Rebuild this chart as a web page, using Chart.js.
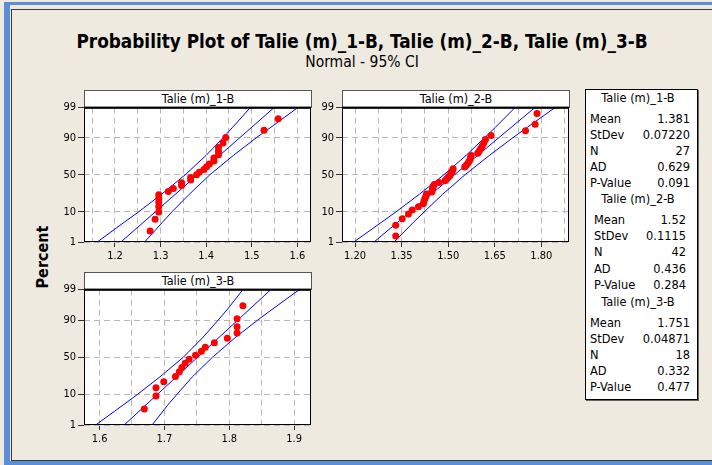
<!DOCTYPE html>
<html>
<head>
<meta charset="utf-8">
<script src="https://cdn.jsdelivr.net/npm/chart.js@4.4.1/dist/chart.umd.min.js"></script>
<style>
  body { margin: 0; background: #e6e6e6; }
  #page { position: absolute; left: 0; top: 0; width: 712px; height: 465px; background: #eeeae0; overflow: hidden;
          font-family: 'DejaVu Sans Condensed', 'DejaVu Sans', sans-serif; color: #000; }
  .abs { position: absolute; }
  .blue { position: absolute; background: #5b8ed6; }
  .dark { position: absolute; background: #3a3a3a; }
  .head { position: absolute; box-sizing: border-box; background: #fff; border: 1px solid #555; border-bottom: none;
          text-align: center; font-size: 12.5px; line-height: 16px; }
  #title { left: 0; width: 724px; top: 32px; text-align: center; font-weight: bold; font-size: 18.8px; line-height: 20px; white-space: nowrap; }
  #sub { left: 0; width: 724px; top: 54px; text-align: center; font-size: 15.5px; line-height: 16px; }
  #percent { left: 42px; top: 257px; font-weight: bold; font-size: 16px; transform: translate(-50%, -50%) rotate(-90deg); white-space: nowrap; }
  #stats { left: 585px; top: 89px; width: 113px; height: 311px; box-sizing: border-box; background: #fff;
           border: 1px solid #000; box-shadow: 1px 1px 0 #666; font-size: 12.7px; }
  .row { position: absolute; height: 14px; line-height: 14px; white-space: nowrap; }
  canvas { position: absolute; }
</style>
</head>
<body>
<div id="page">
  <div class="blue" style="left:4px;top:2px;width:708px;height:3px"></div>
  <div class="blue" style="left:4px;top:2px;width:6px;height:463px"></div>
  <div class="blue" style="left:4px;top:461px;width:708px;height:4px"></div>
  <div class="dark" style="left:11px;top:9px;width:701px;height:1px"></div>
  <div class="dark" style="left:11px;top:9px;width:1px;height:452px"></div>
  <div class="dark" style="left:11px;top:460px;width:701px;height:1px"></div>

  <div id="title" class="abs">Probability Plot of Talie (m)_1-B, Talie (m)_2-B, Talie (m)_3-B</div>
  <div id="sub" class="abs">Normal - 95% CI</div>
  <div id="percent" class="abs">Percent</div>

  <div class="head" style="left:84px;top:90px;width:228px;height:18px">Talie (m)_1-B</div>
  <div class="head" style="left:342px;top:90px;width:228px;height:18px">Talie (m)_2-B</div>
  <div class="head" style="left:84px;top:272px;width:228px;height:18px">Talie (m)_3-B</div>

  <canvas id="c1" width="295" height="173" style="left:24px;top:99px"></canvas>
  <canvas id="c2" width="295" height="173" style="left:282px;top:99px"></canvas>
  <canvas id="c3" width="295" height="174" style="left:24px;top:281px"></canvas>

  <div id="stats" class="abs"></div>
</div>
<script>
// percent axis (normal probability scale)
const pctTicks = [1, 10, 50, 90, 99];
const pctTickLabels = ['1', '10', '50', '90', '99'];
const bandPct = [1, 5, 10, 25, 50, 75, 90, 95, 99];
const fitPct = [1, 99];

// Talie (m)_1-B
const x1 = [1.277, 1.288, 1.296, 1.296, 1.296, 1.296, 1.296, 1.317, 1.328, 1.346, 1.346, 1.366, 1.366, 1.379,
            1.385, 1.395, 1.401, 1.407, 1.417, 1.417, 1.427, 1.427, 1.427, 1.437, 1.443, 1.527, 1.558];
const pct1 = [2.6, 6.2, 9.9, 13.5, 17.2, 20.8, 24.5, 28.1, 31.8, 35.4, 39.1, 42.7, 46.4, 50.0,
              53.6, 57.3, 61.0, 64.6, 68.3, 71.9, 75.5, 79.2, 82.8, 86.5, 90.1, 93.8, 97.4];
const fit1 = [1.213, 1.549];
const lo1 = [1.161, 1.220, 1.252, 1.302, 1.354, 1.400, 1.437, 1.458, 1.497];
const hi1 = [1.265, 1.304, 1.325, 1.363, 1.408, 1.460, 1.510, 1.542, 1.601];
const xGrid1 = [1.15, 1.2, 1.25, 1.3, 1.35, 1.4, 1.45, 1.5, 1.55, 1.6];
const xLabels1 = ['1.2', '1.3', '1.4', '1.5', '1.6'];

// Talie (m)_2-B
const x2 = [1.331, 1.331, 1.352, 1.372, 1.384, 1.404, 1.420, 1.422, 1.425, 1.428, 1.430, 1.447, 1.449, 1.450,
            1.452, 1.455, 1.470, 1.490, 1.495, 1.500, 1.505, 1.508, 1.511, 1.514, 1.516, 1.553, 1.558, 1.563,
            1.567, 1.570, 1.572, 1.574, 1.595, 1.600, 1.605, 1.610, 1.615, 1.620, 1.638, 1.749, 1.780, 1.786];
const pct2 = [1.7, 4.0, 6.4, 8.7, 11.1, 13.4, 15.8, 18.2, 20.5, 22.9, 25.2, 27.6, 30.0, 32.3,
              34.7, 37.0, 39.4, 41.7, 44.1, 46.5, 48.8, 51.2, 53.5, 55.9, 58.3, 60.6, 63.0, 65.3,
              67.7, 70.0, 72.4, 74.8, 77.1, 79.5, 81.8, 84.2, 86.6, 88.9, 91.3, 93.6, 96.0, 98.3];
const fit2 = [1.261, 1.779];
const lo2 = [1.196, 1.285, 1.332, 1.407, 1.486, 1.558, 1.617, 1.652, 1.715];
const hi2 = [1.326, 1.388, 1.423, 1.482, 1.554, 1.633, 1.708, 1.755, 1.844];
const xGrid2 = [1.2, 1.275, 1.35, 1.425, 1.5, 1.575, 1.65, 1.725, 1.8, 1.875];
const xLabels2 = ['1.20', '1.35', '1.50', '1.65', '1.80'];

// Talie (m)_3-B
const x3 = [1.669, 1.687, 1.687, 1.699, 1.717, 1.723, 1.727, 1.732, 1.738, 1.748, 1.757, 1.763, 1.777, 1.797,
            1.812, 1.812, 1.812, 1.821];
const pct3 = [3.8, 9.2, 14.7, 20.1, 25.5, 31.0, 36.4, 41.8, 47.3, 52.7, 58.2, 63.6, 69.0, 74.5,
              79.9, 85.3, 90.8, 96.2];
const fit3 = [1.638, 1.864];
const lo3 = [1.594, 1.636, 1.658, 1.693, 1.729, 1.759, 1.783, 1.797, 1.821];
const hi3 = [1.681, 1.705, 1.719, 1.743, 1.774, 1.809, 1.844, 1.866, 1.908];
const xGrid3 = [1.6, 1.65, 1.7, 1.75, 1.8, 1.85, 1.9];
const xLabels3 = ['1.6', '1.7', '1.8', '1.9'];

// summary table
const statNames = ['Mean', 'StDev', 'N', 'AD', 'P-Value'];
const statTitles = ['Talie (m)_1-B', 'Talie (m)_2-B', 'Talie (m)_3-B'];
const statValues = [
  ['1.381', '0.07220', '27', '0.629', '0.091'],
  ['1.52', '0.1115', '42', '0.436', '0.284'],
  ['1.751', '0.04871', '18', '0.332', '0.477']
];

const FONT = "'DejaVu Sans Condensed', 'DejaVu Sans', sans-serif";

// inverse normal cdf (Acklam) - turns percent into the probability scale
function probit(p) {
  const a = [-39.6968302866538, 220.946098424521, -275.928510446969, 138.357751867269, -30.6647980661472, 2.50662827745924];
  const b = [-54.4760987982241, 161.585836858041, -155.698979859887, 66.8013118877197, -13.2806815528857];
  const c = [-0.00778489400243029, -0.322396458041136, -2.40075827716184, -2.54973253934373, 4.37466414146497, 2.93816398269878];
  const d = [0.00778469570904146, 0.32246712907004, 2.445134137143, 3.75440866190742];
  const pl = 0.02425;
  let q, r;
  if (p < pl) {
    q = Math.sqrt(-2 * Math.log(p));
    return (((((c[0]*q+c[1])*q+c[2])*q+c[3])*q+c[4])*q+c[5]) / ((((d[0]*q+d[1])*q+d[2])*q+d[3])*q+1);
  }
  if (p > 1 - pl) {
    q = Math.sqrt(-2 * Math.log(1 - p));
    return -(((((c[0]*q+c[1])*q+c[2])*q+c[3])*q+c[4])*q+c[5]) / ((((d[0]*q+d[1])*q+d[2])*q+d[3])*q+1);
  }
  q = p - 0.5; r = q * q;
  return (((((a[0]*r+a[1])*r+a[2])*r+a[3])*r+a[4])*r+a[5])*q / (((((b[0]*r+b[1])*r+b[2])*r+b[3])*r+b[4])*r+1);
}

function pts(xs, ps) {
  return xs.map((x, i) => ({ x: x, y: probit(ps[i] / 100) }));
}

// white plot area + black frame
const framePlugin = {
  id: 'frame',
  beforeDraw(chart) {
    const { ctx, chartArea: a } = chart;
    ctx.save();
    ctx.fillStyle = '#fff';
    ctx.fillRect(a.left, a.top, a.right - a.left, a.bottom - a.top);
    ctx.restore();
  },
  afterDraw(chart) {
    const { ctx, chartArea: a } = chart;
    ctx.save();
    ctx.strokeStyle = '#000';
    ctx.lineWidth = 1;
    ctx.strokeRect(a.left + 0.5, a.top + 0.5, a.right - a.left - 1, a.bottom - a.top - 1);
    ctx.fillStyle = '#000';
    ctx.fillRect(a.left, a.top - 1, a.right - a.left, 2);
    ctx.restore();
  }
};

function makePanel(id, xs, ps, fit, lo, hi, xGrid, xLabels, xMin, xMax) {
  const labelFor = v => xLabels.find(l => Math.abs(parseFloat(l) - v) < 1e-6) || '';
  const line = (xv, pv) => ({
    data: pts(xv, pv), showLine: true, borderColor: '#0000ff', borderWidth: 1,
    pointRadius: 0, fill: false, order: 1
  });
  return new Chart(document.getElementById(id), {
    type: 'scatter',
    data: {
      datasets: [
        { data: pts(xs, ps), backgroundColor: '#ff0000', borderColor: '#ff0000', pointRadius: 3.5, borderWidth: 0, order: 0 },
        line(fit, fitPct),
        line(lo, bandPct),
        line(hi, bandPct)
      ]
    },
    options: {
      responsive: false,
      animation: false,
      events: [],
      layout: { padding: { left: 0, top: 8, right: 8, bottom: 0 } },
      plugins: { legend: { display: false }, tooltip: { enabled: false } },
      scales: {
        x: {
          type: 'linear', min: xMin, max: xMax,
          afterFit: s => { s.height = 30; },
          afterBuildTicks: s => { s.ticks = xGrid.map(v => ({ value: v })); },
          ticks: { autoSkip: false, maxRotation: 0, padding: 3, color: '#000', font: { family: FONT, size: 11 },
                   callback: v => labelFor(v) },
          grid: { color: '#b8b8b8', tickColor: c => labelFor(c.tick.value) ? '#333' : 'rgba(0,0,0,0)',
                  tickLength: 5, tickBorderDash: [] },
          border: { display: false, dash: [6, 4] }
        },
        y: {
          type: 'linear', min: probit(0.01), max: probit(0.99),
          afterFit: s => { s.width = 60; },
          afterBuildTicks: s => { s.ticks = pctTicks.map(p => ({ value: probit(p / 100) })); },
          ticks: { autoSkip: false, padding: 2, color: '#000', font: { family: FONT, size: 11 },
                   callback: (v, i) => pctTickLabels[i] },
          grid: { color: '#b8b8b8', tickColor: '#333', tickLength: 6, tickBorderDash: [] },
          border: { display: false, dash: [6, 4] }
        }
      }
    },
    plugins: [framePlugin]
  });
}

makePanel('c1', x1, pct1, fit1, lo1, hi1, xGrid1, xLabels1, 1.132, 1.630);
makePanel('c2', x2, pct2, fit2, lo2, hi2, xGrid2, xLabels2, 1.158, 1.889);
makePanel('c3', x3, pct3, fit3, lo3, hi3, xGrid3, xLabels3, 1.576, 1.926);

// summary box rows
const stats = document.getElementById('stats');
const groupTop = [8, 109, 212];
const rowStep = [16, 16.2, 16.0];
const labelLeft = [4, 8, 4];
const valueRight = [7, 11, 7];
statTitles.forEach((t, g) => {
  const h = document.createElement('div');
  h.className = 'row';
  h.style.left = '0px'; h.style.width = '104px'; h.style.textAlign = 'center';
  h.style.top = groupTop[g] - 7 + 'px';
  h.textContent = t;
  stats.appendChild(h);
  statNames.forEach((n, k) => {
    const y = groupTop[g] + 21 + rowStep[g] * k - 7;
    const l = document.createElement('div');
    l.className = 'row';
    l.style.left = labelLeft[g] + 'px'; l.style.top = y + 'px';
    l.textContent = n;
    const v = document.createElement('div');
    v.className = 'row';
    v.style.right = valueRight[g] + 'px'; v.style.top = y + 'px';
    v.textContent = statValues[g][k];
    stats.appendChild(l);
    stats.appendChild(v);
  });
});
</script>
</body>
</html>
